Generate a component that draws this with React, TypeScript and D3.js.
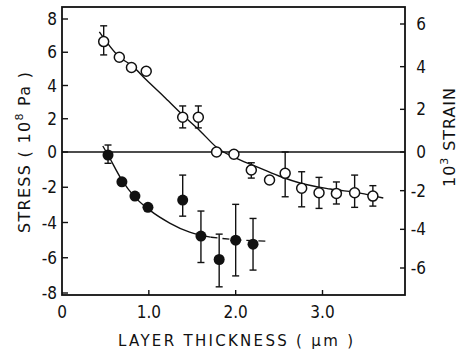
import * as d3 from 'd3';

// open circles
const openX = [0.48, 0.66, 0.8, 0.97, 1.39, 1.57, 1.78, 1.98, 2.18, 2.39, 2.57, 2.76, 2.96, 3.16, 3.37, 3.58];
const openY = [6.64, 5.7, 5.08, 4.86, 2.09, 2.09, 0.0, -0.13, -1.02, -1.59, -1.21, -2.06, -2.31, -2.35, -2.31, -2.5];
const openErrLo = [5.84, null, null, null, 1.45, 1.45, null, null, -1.48, null, -2.54, -3.11, -3.2, -2.95, -3.14, -3.07];
const openErrHi = [7.59, null, null, null, 2.77, 2.77, null, null, -0.61, null, 0.0, -1.12, -1.44, -1.7, -1.31, -1.91];

// filled circles
const filledX = [0.53, 0.69, 0.84, 0.99, 1.39, 1.6, 1.81, 2.0, 2.2];
const filledY = [-0.17, -1.69, -2.5, -3.14, -2.73, -4.77, -6.1, -5.0, -5.23];
const filledErrLo = [-0.64, null, null, null, -3.64, -6.27, -7.65, -7.03, -6.7];
const filledErrHi = [0.42, null, null, null, -1.31, -3.35, -4.66, -2.97, -3.77];

// fitted curves
const openFitX = [0.43, 0.66, 0.81, 0.97, 1.19, 1.39, 1.59, 1.79, 2.03, 2.28, 2.53, 2.74, 3.09, 3.43, 3.7];
const openFitY = [7.23, 5.72, 5.18, 4.34, 3.25, 2.23, 1.27, 0.24, -0.4, -0.91, -1.42, -1.76, -2.1, -2.33, -2.61];
const filledFitX = [0.47, 0.53, 0.69, 0.84, 1.01, 1.24, 1.47, 1.71, 1.99, 2.37];
const filledFitY = [0.36, -0.17, -1.59, -2.56, -3.3, -4.03, -4.55, -4.83, -4.97, -5.06];

const xTicks = [0, 1, 2, 3];
const xTickLabels = ['0', '1.0', '2.0', '3.0'];
const stressTicks = [8, 6, 4, 2, 0, -2, -4, -6, -8];
const strainTicks = [6, 4, 2, 0, -2, -4, -6];

const W = 459;
const H = 349;
const FONT = "'DejaVu Sans Condensed', 'Liberation Sans Narrow', 'Liberation Sans', sans-serif";
const TITLE_FONT = "'DejaVu Sans', 'Liberation Sans', sans-serif";
const INK = '#111';

export default function App() {
  const x = d3.scaleLinear().domain([0, 3.95]).range([62, 405]);
  // scanned axis is slightly uneven, so piecewise
  const yStress = d3.scaleLinear().domain([-8, 0, 8]).range([293, 152, 19]);
  const yStrain = d3.scaleLinear().domain([-6, 0, 6]).range([268, 152, 24]);

  const top = 7;
  const bottom = 295;
  const left = x(0);
  const right = x(3.95);

  type P = [number, number];
  const line = d3.line<P>().x(d => x(d[0])).y(d => yStress(d[1])).curve(d3.curveMonotoneX);

  const openFit: P[] = openFitX.map((v, i) => [v, openFitY[i]]);
  const filledFit: P[] = filledFitX.map((v, i) => [v, filledFitY[i]]);
  const split = 7;
  const filledSolid = filledFit.slice(0, split + 1);
  const filledDash = filledFit.slice(split);

  const cap = 3.5;

  return (
    <svg width={W} height={H} style={{ position: 'absolute', left: 0, top: 0, background: '#fff' }} fontFamily={FONT}>
      <rect x={0} y={0} width={W} height={H} fill="#fff" />

      {/* zero line */}
      <line x1={left} x2={right} y1={yStress(0)} y2={yStress(0)} stroke={INK} strokeWidth={1.5} />

      {/* curves */}
      <path d={line(openFit) || ''} fill="none" stroke={INK} strokeWidth={1.4} />
      <path d={line(filledSolid) || ''} fill="none" stroke={INK} strokeWidth={1.4} />
      <path d={line(filledDash) || ''} fill="none" stroke={INK} strokeWidth={1.4} strokeDasharray="7,5" />

      {/* error bars */}
      {openX.map((v, i) => {
        const lo = openErrLo[i];
        const hi = openErrHi[i];
        if (lo == null || hi == null) return null;
        const cx = x(v);
        return (
          <g key={'oe' + i} stroke={INK} strokeWidth={1.4}>
            <line x1={cx} x2={cx} y1={yStress(lo)} y2={yStress(hi)} />
            <line x1={cx - cap} x2={cx + cap} y1={yStress(lo)} y2={yStress(lo)} />
            <line x1={cx - cap} x2={cx + cap} y1={yStress(hi)} y2={yStress(hi)} />
          </g>
        );
      })}
      {filledX.map((v, i) => {
        const lo = filledErrLo[i];
        const hi = filledErrHi[i];
        if (lo == null || hi == null) return null;
        const cx = x(v);
        return (
          <g key={'fe' + i} stroke={INK} strokeWidth={1.4}>
            <line x1={cx} x2={cx} y1={yStress(lo)} y2={yStress(hi)} />
            <line x1={cx - cap} x2={cx + cap} y1={yStress(lo)} y2={yStress(lo)} />
            <line x1={cx - cap} x2={cx + cap} y1={yStress(hi)} y2={yStress(hi)} />
          </g>
        );
      })}

      {/* points */}
      {openX.map((v, i) => (
        <circle key={'o' + i} cx={x(v)} cy={yStress(openY[i])} r={5} fill="#fff" stroke={INK} strokeWidth={1.5} />
      ))}
      {filledX.map((v, i) => (
        <circle key={'f' + i} cx={x(v)} cy={yStress(filledY[i])} r={5.5} fill={INK} />
      ))}

      {/* frame */}
      <rect x={left} y={top} width={right - left} height={bottom - top} fill="none" stroke={INK} strokeWidth={1.8} />

      {/* left ticks */}
      {stressTicks.map(t => (
        <g key={'ls' + t}>
          <line x1={left} x2={left + 6} y1={yStress(t)} y2={yStress(t)} stroke={INK} strokeWidth={1.4} />
          <text x={left - 5} y={yStress(t)} dy="0.36em" textAnchor="end" fontSize={17} fill={INK}>
            {t < 0 ? '-' + Math.abs(t) : String(t)}
          </text>
        </g>
      ))}

      {/* right ticks */}
      {strainTicks.map(t => (
        <g key={'rs' + t}>
          <line x1={right - 5} x2={right} y1={yStrain(t)} y2={yStrain(t)} stroke={INK} strokeWidth={1.4} />
          <text x={426} y={yStrain(t)} dy="0.36em" textAnchor="end" fontSize={17} fill={INK}>
            {t < 0 ? '-' + Math.abs(t) : String(t)}
          </text>
        </g>
      ))}

      {/* bottom ticks */}
      {xTicks.map((t, i) => (
        <g key={'bt' + t}>
          {t > 0 && <line x1={x(t)} x2={x(t)} y1={bottom} y2={bottom - 5} stroke={INK} strokeWidth={1.4} />}
          <text x={x(t)} y={318} textAnchor="middle" fontSize={17} fill={INK}>
            {xTickLabels[i]}
          </text>
        </g>
      ))}

      {/* axis titles */}
      <text x={235.5} y={346} textAnchor="middle" fontFamily={TITLE_FONT} fontSize={15} fill={INK} textLength={235} lengthAdjust="spacing">
        LAYER THICKNESS ( μm )
      </text>
      <text transform={`translate(30,152.5) rotate(-90)`} textAnchor="middle" fontFamily={TITLE_FONT} fontSize={16} fill={INK} textLength={161} lengthAdjust="spacing">
        STRESS ( 10<tspan fontSize={11} dy={-7}>8</tspan><tspan dy={7}> Pa )</tspan>
      </text>
      <text transform={`translate(455,137.5) rotate(-90)`} textAnchor="middle" fontFamily={TITLE_FONT} fontSize={16} fill={INK} textLength={99} lengthAdjust="spacing">
        10<tspan fontSize={11} dy={-7}>3</tspan><tspan dy={7}> STRAIN</tspan>
      </text>
    </svg>
  );
}
